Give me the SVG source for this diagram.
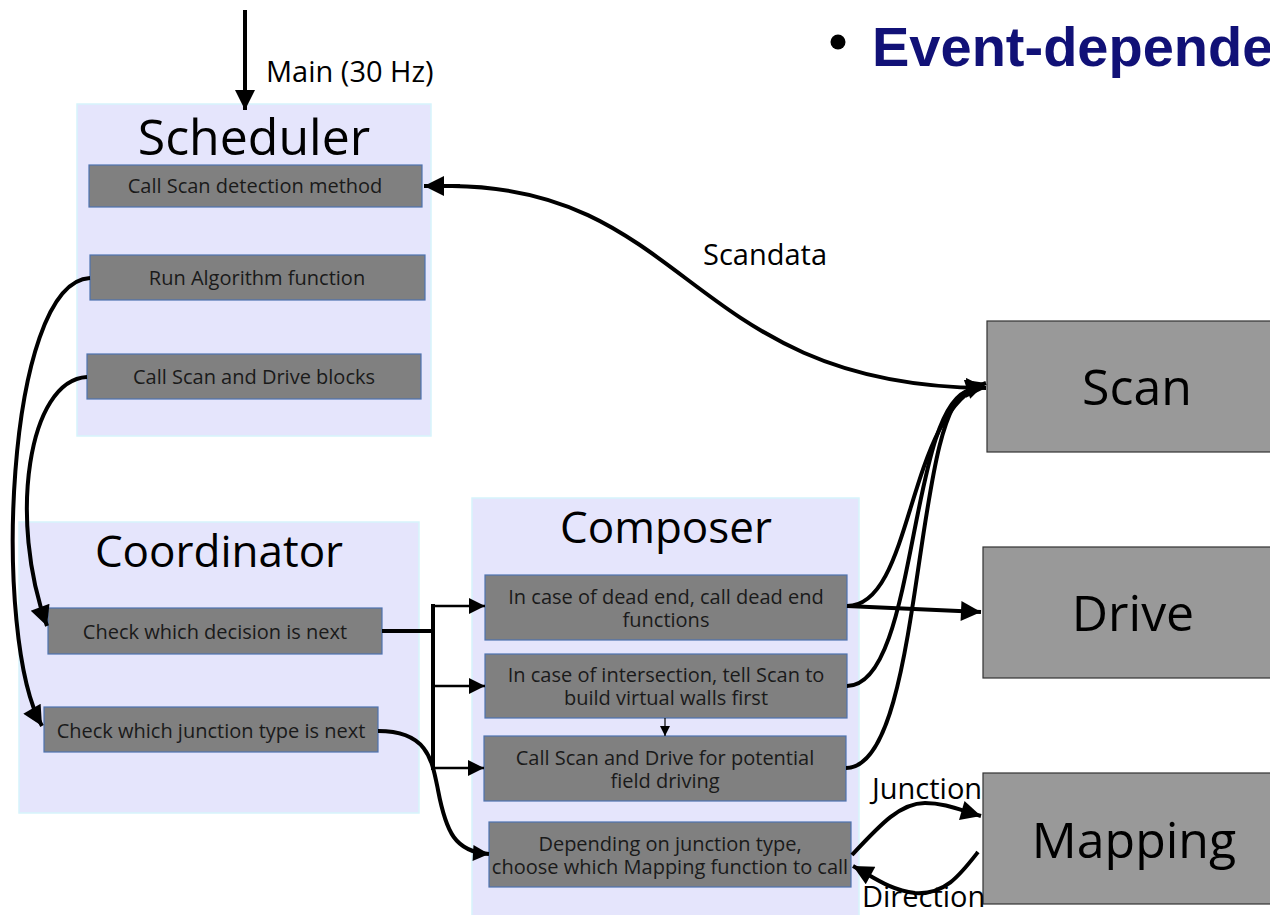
<svg xmlns="http://www.w3.org/2000/svg" width="1270" height="915" viewBox="0 0 1270 915">
  <defs>
    <style>
      .panel { fill: #e5e5fc; stroke: #d6f4fb; stroke-width: 1.5; }
      .item { fill: #808080; stroke: #4d72b0; stroke-width: 1.2; }
      .block { fill: #999999; stroke: #333333; stroke-width: 1.2; }
      .ptitle { font-family: "Open Sans", "DejaVu Sans", sans-serif; font-size: 44px; fill: #000; text-anchor: middle; }
      .itext { font-family: "Open Sans", "DejaVu Sans", sans-serif; font-size: 20px; fill: #1a1a1a; text-anchor: middle; }
      .btext { font-family: "Open Sans", "DejaVu Sans", sans-serif; font-size: 50px; fill: #000; text-anchor: middle; }
      .label { font-family: "Open Sans", "DejaVu Sans", sans-serif; font-size: 29px; fill: #000; }
      .wire { fill: none; stroke: #000; stroke-width: 4; }
      .thin { fill: none; stroke: #000; stroke-width: 2.5; }
    </style>
    <marker id="head" viewBox="0 0 10 10" refX="10" refY="5" markerWidth="32" markerHeight="20" markerUnits="userSpaceOnUse" orient="auto">
      <path d="M0,0 L10,5 L0,10 z" fill="#000"/>
    </marker>
    <marker id="headS" viewBox="0 0 10 10" refX="10" refY="5" markerWidth="24" markerHeight="16" markerUnits="userSpaceOnUse" orient="auto">
      <path d="M0,0 L10,5 L0,10 z" fill="#000"/>
    </marker>
    <marker id="headT" viewBox="0 0 10 10" refX="10" refY="5" markerWidth="10" markerHeight="10" markerUnits="userSpaceOnUse" orient="auto">
      <path d="M0,0 L10,5 L0,10 z" fill="#000"/>
    </marker>
  </defs>

  <rect width="1270" height="915" fill="#ffffff"/>

  <!-- slide heading, running off the right edge -->
  <g id="heading">
    <circle cx="838" cy="42" r="7.5" fill="#000"/>
    <text x="872" y="66" font-family="Liberation Sans, Arial, sans-serif" font-size="56" font-weight="bold" fill="#111177">Event-dependent</text>
  </g>

  <!-- Scheduler -->
  <g id="scheduler">
    <rect class="panel" x="77" y="104" width="354" height="332"/>
    <text class="ptitle" x="254" y="155" style="font-size:50px">Scheduler</text>
  </g>
  <g id="sched-scan-detect">
    <rect class="item" x="89" y="165" width="333" height="42"/>
    <text class="itext" x="255" y="193">Call Scan detection method</text>
  </g>
  <g id="sched-run-algorithm">
    <rect class="item" x="90" y="255" width="335" height="45"/>
    <text class="itext" x="257" y="285">Run Algorithm function</text>
  </g>
  <g id="sched-call-blocks">
    <rect class="item" x="87" y="354" width="334" height="45"/>
    <text class="itext" x="254" y="384">Call Scan and Drive blocks</text>
  </g>

  <!-- Coordinator -->
  <g id="coordinator">
    <rect class="panel" x="19" y="522" width="400" height="291"/>
    <text class="ptitle" x="219" y="567">Coordinator</text>
  </g>
  <g id="coord-decision">
    <rect class="item" x="48" y="608" width="334" height="46"/>
    <text class="itext" x="215" y="639">Check which decision is next</text>
  </g>
  <g id="coord-junction">
    <rect class="item" x="44" y="707" width="334" height="45"/>
    <text class="itext" x="211" y="738">Check which junction type is next</text>
  </g>

  <!-- Composer -->
  <g id="composer">
    <rect class="panel" x="472" y="498" width="387" height="420"/>
    <text class="ptitle" x="666" y="543">Composer</text>
  </g>
  <g id="comp-dead-end">
    <rect class="item" x="485" y="575" width="362" height="65"/>
    <text class="itext" x="666" y="604">In case of dead end, call dead end<tspan x="666" dy="23">functions</tspan></text>
  </g>
  <g id="comp-intersection">
    <rect class="item" x="485" y="654" width="362" height="64"/>
    <text class="itext" x="666" y="682">In case of intersection, tell Scan to<tspan x="666" dy="23">build virtual walls first</tspan></text>
  </g>
  <g id="comp-potential">
    <rect class="item" x="484" y="736" width="362" height="65"/>
    <text class="itext" x="665" y="765">Call Scan and Drive for potential<tspan x="665" dy="23">field driving</tspan></text>
  </g>
  <g id="comp-mapping">
    <rect class="item" x="489" y="822" width="362" height="65"/>
    <text class="itext" x="670" y="851">Depending on junction type,<tspan x="670" dy="23">choose which Mapping function to call</tspan></text>
  </g>

  <!-- Scan / Drive / Mapping blocks -->
  <g id="scan">
    <rect class="block" x="987" y="321" width="290" height="131"/>
    <text class="btext" x="1137" y="405">Scan</text>
  </g>
  <g id="drive">
    <rect class="block" x="983" y="547" width="294" height="131"/>
    <text class="btext" x="1133" y="631">Drive</text>
  </g>
  <g id="mapping">
    <rect class="block" x="983" y="773" width="294" height="131"/>
    <text class="btext" x="1134" y="858">Mapping</text>
  </g>

  <!-- connectors -->
  <g id="connectors">
    <!-- main loop entry -->
    <line class="wire" x1="245" y1="10" x2="245" y2="110" marker-end="url(#head)"/>
    <text class="label" x="266" y="82">Main (30 Hz)</text>

    <!-- scan data, both directions -->
    <path class="wire" d="M452,186 C690,188 690,386 986,388" marker-end="url(#head)"/>
    <path class="wire" d="M460,186 L424,186" marker-end="url(#head)"/>
    <text class="label" x="703" y="265">Scandata</text>

    <!-- scheduler into coordinator -->
    <path class="wire" d="M90,278 C5,282 -8,640 42,726" marker-end="url(#head)"/>
    <path class="wire" d="M87,377 C28,380 8,520 47,626" marker-end="url(#head)"/>

    <!-- decision bus into composer -->
    <path class="wire" d="M382,631 L433,631"/>
    <line class="wire" x1="433" y1="604" x2="433" y2="770"/>
    <path class="thin" d="M433,606 L485,606" marker-end="url(#headS)"/>
    <path class="thin" d="M433,686 L485,686" marker-end="url(#headS)"/>
    <path class="thin" d="M433,768 L484,768" marker-end="url(#headS)"/>

    <!-- junction type into mapping choice -->
    <path class="wire" d="M378,731 C428,731 432,760 438,790 C446,832 455,852 489,854" marker-end="url(#headS)"/>

    <!-- intersection leads to potential field -->
    <line x1="665" y1="718" x2="665" y2="736" stroke="#000" stroke-width="1.2" marker-end="url(#headT)"/>

    <!-- composer to scan and drive -->
    <path class="wire" d="M847,606 C915,606 905,410 986,383" marker-end="url(#head)"/>
    <path class="wire" d="M847,686 C918,686 908,405 970,390"/>
    <path class="wire" d="M846,768 C925,768 912,405 970,390"/>
    <path class="wire" d="M847,606 L981,612" marker-end="url(#head)"/>

    <!-- mapping exchange -->
    <path class="wire" d="M852,855 C880,825 900,803 925,803 C945,803 960,810 981,816" marker-end="url(#head)"/>
    <path class="wire" d="M978,852 C960,875 945,895 915,893 C890,890 875,878 853,866" marker-end="url(#head)"/>
    <text class="label" x="872" y="799">Junction</text>
    <text class="label" x="862" y="907">Direction</text>
  </g>
</svg>
